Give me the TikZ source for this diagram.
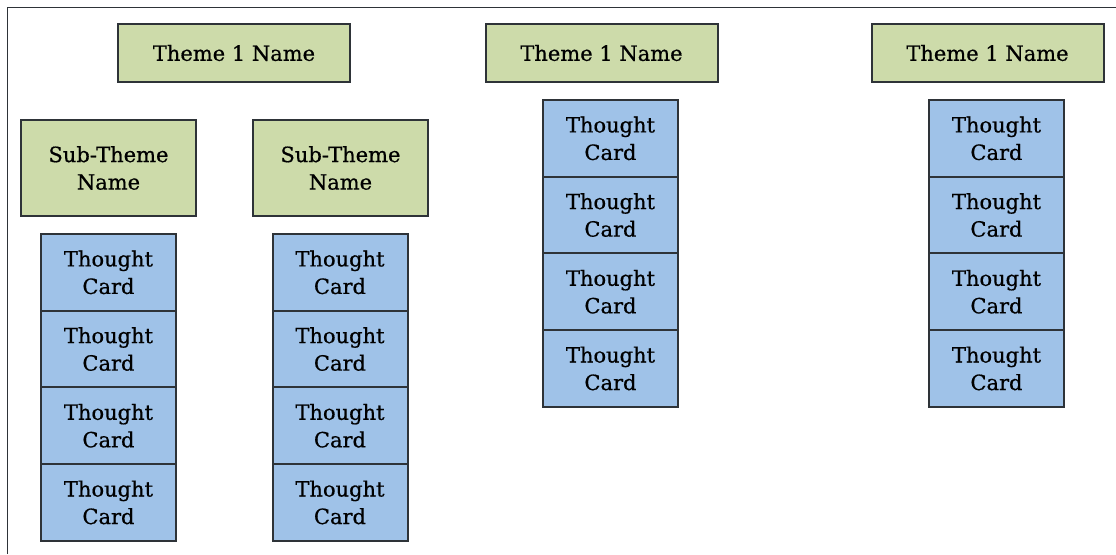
\documentclass[tikz,border=0pt]{standalone}
\usepackage{fontspec}
\setmainfont{DejaVu Serif}[FakeBold=0.6]
\definecolor{themegreen}{HTML}{CDDBAA}
\definecolor{cardblue}{HTML}{9FC2E8}
\definecolor{edge}{HTML}{2E3338}
\begin{document}
\begin{tikzpicture}[x=1pt,y=-1pt,
  box/.style={draw=edge, line width=2pt, inner sep=0pt, align=center,
    font=\fontsize{21}{27.5}\selectfont},
  theme/.style={box, fill=themegreen, minimum width=232pt, minimum height=58pt},
  subtheme/.style={box, fill=themegreen, minimum width=175pt, minimum height=96pt},
  card/.style={box, fill=cardblue, minimum width=135pt, minimum height=76.7pt}]
\useasboundingbox (0,0) rectangle (1116,554);
% page frame (top and left edges)
\coordinate (fbl) at (7.5,554);
\coordinate (ftl) at (7.5,7.5);
\coordinate (ftr) at (1116,7.5);
\draw[line width=1.6pt, edge] (fbl) -- (ftl) -- (ftr);

% theme headers
\node[theme] (t1) at (234,53) {Theme 1 Name};
\node[theme] (t2) at (601.5,53) {Theme 1 Name};
\node[theme] (t3) at (987.5,53) {Theme 1 Name};

% sub-theme headers
\node[subtheme] (s1) at (108.5,168) {Sub-Theme\\Name};
\node[subtheme] (s2) at (340.5,168) {Sub-Theme\\Name};

% thought card stacks
\foreach \col/\x/\ytop in {1/108.5/234, 2/340/234, 3/610.5/100, 4/996.5/100}{
  \foreach \i in {0,...,3}{
    \node[card] (c\col-\i) at (\x,\ytop+38.35+76.7*\i) {Thought\\Card};
  }
}
\end{tikzpicture}
\end{document}
